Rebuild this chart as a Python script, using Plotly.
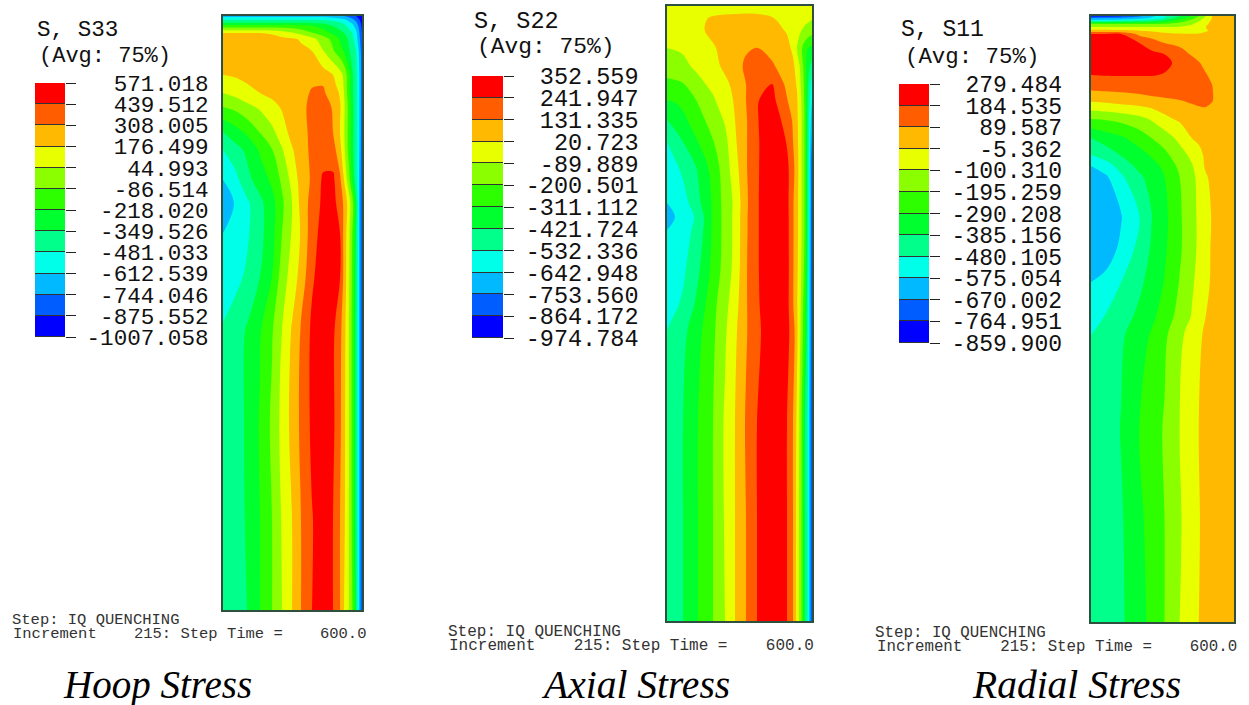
import plotly.graph_objects as go

W, H = 1249, 705

# Stress fields expressed in legend-band units: band k spans z in [k, k+1]
# (0 = darkest blue ... 11 = red). Stations are pixels across/down each section.
hoop_r = [0, 12, 24, 37, 49, 59, 69, 78, 89, 100, 110, 117, 121, 126, 130, 133, 136, 139]
hoop_y = [0, 3, 6, 10, 17, 23, 35, 59, 69, 77, 91, 116, 134, 164, 187, 217, 260, 314, 409, 504, 594]
hoop_z = [
    [2.6, 2.6, 2.6, 2.6, 2.6, 2.6, 2.6, 2.6, 2.6, 2.6, 2.4, 2.2, 2.0, 1.6, 1.3, 1.0, 0.7, 0.3],
    [3.8, 3.8, 3.8, 3.8, 3.8, 3.8, 3.8, 3.8, 3.8, 3.7, 3.5, 3.2, 3.0, 2.5, 2.0, 1.5, 1.0, 0.5],
    [4.7, 4.7, 4.7, 4.7, 4.7, 4.7, 4.7, 4.7, 4.7, 4.6, 4.3, 4.0, 3.7, 3.1, 2.7, 2.1, 1.4, 0.6],
    [6.5, 6.5, 6.5, 6.5, 6.5, 6.5, 6.5, 6.3, 6.0, 5.6, 5.0, 4.6, 4.3, 3.7, 3.2, 2.6, 1.8, 0.8],
    [9.0, 9.0, 9.0, 9.0, 8.9, 8.5, 8.1, 7.7, 7.05, 6.5, 5.8, 5.3, 5.0, 4.4, 3.9, 3.3, 2.2, 1.0],
    [9.3, 9.3, 9.3, 9.3, 9.3, 9.25, 9.15, 8.9, 8.3, 7.5, 6.7, 5.9, 5.5, 4.8, 4.1, 3.5, 2.4, 1.1],
    [9.5, 9.5, 9.5, 9.5, 9.45, 9.4, 9.3, 9.2, 9.0, 8.05, 7.1, 6.4, 5.9, 5.1, 4.5, 4.0, 2.9, 1.4],
    [9.0, 9.1, 9.3, 9.6, 9.8, 9.85, 9.9, 9.9, 9.75, 9.45, 9.0, 8.4, 7.8, 6.3, 5.0, 4.3, 3.2, 1.5],
    [8.5, 8.7, 8.95, 9.3, 9.6, 9.75, 9.85, 9.92, 9.97, 9.97, 9.3, 8.6, 7.9, 6.3, 5.0, 4.3, 3.2, 1.5],
    [8.0, 8.3, 8.6, 9.0, 9.25, 9.55, 9.75, 9.85, 10.05, 10.15, 9.5, 8.9, 8.0, 6.4, 5.0, 4.3, 3.2, 1.5],
    [7.0, 7.25, 7.75, 8.15, 8.7, 9.1, 9.55, 9.8, 10.2, 10.5, 9.9, 9.1, 8.2, 6.6, 5.1, 4.3, 3.2, 1.5],
    [5.0, 5.6, 6.2, 7.05, 7.75, 8.55, 9.35, 9.7, 10.2, 10.7, 10.0, 9.0, 8.1, 6.6, 5.1, 4.3, 3.2, 1.4],
    [4.0, 4.6, 5.2, 6.15, 6.95, 7.9, 8.9, 9.6, 10.2, 10.55, 10.45, 9.3, 8.3, 6.6, 5.1, 4.3, 3.2, 1.3],
    [3.0, 3.65, 4.7, 5.45, 6.2, 7.2, 8.3, 9.4, 10.15, 11.15, 11.2, 10.2, 9.0, 7.3, 5.5, 4.4, 3.0, 1.2],
    [2.5, 3.05, 3.8, 4.75, 5.65, 6.8, 8.0, 9.3, 10.4, 11.2, 11.3, 10.6, 9.8, 8.5, 7.0, 5.2, 3.0, 1.0],
    [3.0, 3.4, 3.85, 4.7, 5.65, 7.0, 8.1, 9.1, 10.55, 11.4, 11.4, 11.0, 9.7, 8.2, 6.7, 5.0, 3.0, 1.0],
    [3.4, 3.7, 4.15, 5.0, 6.0, 7.45, 8.45, 9.35, 10.85, 11.5, 11.4, 11.05, 9.7, 8.1, 6.6, 4.9, 3.0, 1.0],
    [4.1, 4.5, 5.1, 5.9, 6.9, 8.0, 9.1, 10.1, 11.2, 11.7, 11.2, 10.3, 9.4, 8.0, 6.5, 4.8, 3.0, 1.0],
    [4.2, 4.55, 5.15, 6.1, 7.2, 8.3, 9.3, 10.2, 11.2, 11.7, 11.2, 10.2, 9.3, 8.0, 6.5, 4.8, 3.0, 1.0],
    [4.25, 4.55, 5.1, 6.0, 7.0, 8.1, 9.0, 10.0, 10.95, 11.5, 11.0, 10.0, 9.2, 8.0, 6.5, 4.8, 3.0, 1.0],
    [4.4, 4.7, 5.0, 6.0, 7.0, 8.0, 9.0, 10.0, 11.0, 11.5, 11.0, 10.0, 9.0, 8.0, 6.8, 5.0, 3.0, 1.0],
]

axial_r = [0, 8, 16, 31, 46, 58, 68, 79, 90, 105, 120, 126, 130, 134, 138, 141, 145]
axial_y = [0, 12, 24, 42, 60, 78, 94, 114, 136, 161, 197, 211, 224, 261, 300, 324, 419, 514, 615]
axial_z = [
    [8.5, 8.5, 8.5, 8.5, 8.5, 8.5, 8.5, 8.5, 8.5, 8.5, 8.5, 8.5, 8.5, 8.5, 8.5, 8.4, 8.3],
    [8.45, 8.5, 8.6, 8.8, 9.1, 9.2, 9.25, 9.3, 9.25, 9.05, 8.7, 8.6, 8.5, 8.4, 8.3, 8.2, 8.1],
    [8.3, 8.35, 8.5, 8.8, 9.25, 9.45, 9.5, 9.55, 9.55, 9.4, 8.9, 8.5, 8.3, 8.05, 7.8, 7.7, 7.5],
    [8.0, 8.05, 8.15, 8.5, 8.9, 9.3, 9.6, 9.9, 10.02, 9.75, 9.3, 8.8, 8.0, 7.2, 6.5, 6.0, 5.8],
    [7.6, 7.65, 7.75, 8.25, 8.7, 9.2, 9.65, 10.15, 10.3, 10.1, 9.6, 9.2, 8.6, 7.7, 6.4, 5.4, 4.6],
    [6.7, 6.8, 6.95, 7.7, 8.3, 8.8, 9.25, 10.0, 10.85, 11.0, 9.75, 9.35, 8.9, 7.9, 6.6, 5.0, 3.6],
    [6.0, 6.1, 6.3, 7.1, 7.85, 8.6, 9.1, 10.0, 10.95, 11.3, 10.05, 9.5, 9.1, 8.1, 6.7, 4.8, 3.0],
    [5.0, 5.4, 5.75, 6.6, 7.45, 8.1, 9.0, 9.9, 10.95, 11.45, 10.7, 9.85, 9.2, 8.2, 6.8, 4.7, 2.3],
    [4.0, 4.5, 5.0, 6.0, 6.95, 7.7, 8.85, 9.9, 10.9, 11.55, 10.95, 10.0, 9.3, 8.2, 6.8, 4.6, 1.8],
    [3.4, 3.8, 4.25, 5.1, 6.45, 7.5, 8.6, 9.9, 10.9, 11.6, 11.25, 10.3, 9.4, 8.2, 6.8, 4.5, 1.3],
    [3.0, 3.3, 3.55, 4.75, 6.15, 7.4, 8.2, 9.8, 10.9, 11.7, 11.3, 10.1, 9.3, 8.2, 6.8, 4.5, 1.2],
    [2.7, 3.0, 3.45, 4.2, 6.2, 7.35, 8.25, 9.85, 10.9, 11.7, 11.35, 10.1, 9.3, 8.2, 6.8, 4.5, 1.1],
    [3.0, 3.25, 3.55, 4.35, 6.2, 7.35, 8.25, 9.85, 10.9, 11.7, 11.35, 10.1, 9.3, 8.2, 6.8, 4.5, 1.1],
    [3.45, 3.6, 3.8, 4.8, 6.3, 7.4, 8.3, 9.9, 10.9, 11.7, 11.4, 10.1, 9.2, 8.1, 6.6, 4.4, 1.0],
    [3.75, 3.9, 4.15, 5.3, 6.7, 7.7, 8.6, 9.9, 10.85, 11.7, 11.35, 10.1, 9.1, 7.9, 6.2, 4.2, 1.0],
    [4.0, 4.25, 4.7, 5.7, 6.8, 7.85, 8.8, 9.9, 10.75, 11.7, 11.3, 10.5, 9.2, 7.8, 6.0, 4.2, 1.0],
    [4.3, 4.65, 5.0, 6.0, 7.0, 8.15, 9.0, 10.1, 11.0, 11.65, 11.0, 10.0, 8.8, 7.4, 5.0, 3.8, 1.0],
    [4.35, 4.7, 5.0, 6.0, 7.0, 8.1, 9.0, 10.0, 11.0, 11.6, 11.0, 10.0, 8.7, 7.3, 5.0, 3.8, 1.0],
    [4.4, 4.7, 5.0, 6.0, 7.0, 8.0, 9.0, 10.0, 11.0, 11.6, 11.0, 10.0, 8.7, 7.3, 5.0, 3.8, 1.0],
]

radial_r = [0, 15, 30, 48, 60, 73, 88, 100, 107, 114, 120, 126, 142]
radial_y = [0, 2, 4, 8, 11, 15, 18, 27, 39, 47, 59, 71, 84, 91, 103, 122, 139, 150, 161, 200, 233, 266, 300, 319, 414, 504, 606]
radial_z = [
    [0.6, 0.7, 0.9, 1.8, 2.6, 3.8, 5.0, 6.0, 7.0, 8.0, 9.0, 9.4, 9.6],
    [2.0, 2.1, 2.2, 2.6, 3.2, 4.0, 5.5, 6.6, 7.4, 8.2, 9.0, 9.4, 9.6],
    [3.0, 3.1, 3.3, 3.7, 4.2, 5.0, 6.2, 7.1, 7.8, 8.5, 9.1, 9.4, 9.6],
    [7.0, 7.0, 7.0, 7.0, 7.0, 7.1, 7.5, 7.9, 8.3, 8.8, 9.3, 9.5, 9.6],
    [8.0, 8.0, 8.0, 8.0, 8.0, 8.0, 8.05, 8.3, 8.6, 9.0, 9.3, 9.5, 9.6],
    [9.5, 9.45, 9.3, 9.1, 8.9, 8.6, 8.4, 8.4, 8.6, 8.9, 9.2, 9.5, 9.6],
    [11.05, 11.05, 11.0, 9.75, 9.5, 9.3, 9.1, 9.05, 9.1, 9.3, 9.45, 9.6, 9.6],
    [11.5, 11.5, 11.4, 11.0, 10.5, 10.0, 9.75, 9.65, 9.6, 9.6, 9.6, 9.6, 9.6],
    [11.6, 11.6, 11.6, 11.4, 11.3, 11.05, 10.5, 9.95, 9.8, 9.7, 9.6, 9.6, 9.6],
    [11.5, 11.5, 11.5, 11.5, 11.4, 11.2, 10.8, 10.3, 10.05, 9.8, 9.7, 9.6, 9.6],
    [11.0, 11.05, 11.05, 11.05, 11.05, 10.95, 10.6, 10.4, 10.25, 10.05, 9.85, 9.6, 9.6],
    [10.3, 10.35, 10.4, 10.45, 10.45, 10.45, 10.4, 10.4, 10.35, 10.25, 10.05, 9.6, 9.55],
    [9.2, 9.3, 9.4, 9.6, 9.8, 9.9, 10.0, 10.3, 10.4, 10.4, 10.1, 9.6, 9.5],
    [8.4, 8.55, 8.75, 8.9, 9.1, 9.3, 9.5, 9.75, 9.95, 10.0, 9.8, 9.55, 9.5],
    [7.0, 7.1, 7.3, 7.7, 8.1, 8.8, 9.15, 9.35, 9.4, 9.5, 9.45, 9.5, 9.5],
    [5.0, 5.5, 5.85, 6.45, 7.0, 7.45, 8.3, 9.0, 9.2, 9.35, 9.4, 9.45, 9.5],
    [4.0, 4.45, 5.05, 5.65, 6.1, 6.75, 7.55, 8.25, 8.7, 9.2, 9.3, 9.4, 9.5],
    [3.0, 3.6, 4.35, 5.3, 5.65, 6.2, 7.25, 7.9, 8.5, 9.15, 9.3, 9.4, 9.5],
    [2.5, 2.85, 3.85, 4.8, 5.4, 6.0, 7.0, 7.75, 8.25, 8.9, 9.2, 9.4, 9.5],
    [2.3, 2.6, 2.95, 4.0, 4.95, 5.75, 6.85, 7.7, 8.15, 8.65, 9.05, 9.4, 9.5],
    [2.4, 2.65, 3.15, 4.35, 5.1, 5.85, 6.85, 7.7, 8.15, 8.7, 9.1, 9.4, 9.5],
    [3.0, 3.2, 4.0, 4.8, 5.35, 6.05, 7.05, 7.85, 8.3, 8.8, 9.1, 9.4, 9.5],
    [3.7, 4.05, 4.6, 5.2, 5.75, 6.45, 7.35, 8.05, 8.5, 9.0, 9.2, 9.4, 9.5],
    [4.0, 4.4, 4.85, 5.55, 6.1, 6.8, 7.75, 8.45, 8.8, 9.2, 9.3, 9.4, 9.5],
    [4.1, 4.45, 5.05, 6.0, 6.5, 7.1, 8.0, 8.7, 9.0, 9.25, 9.3, 9.4, 9.5],
    [4.25, 4.55, 4.9, 5.8, 6.35, 7.0, 7.9, 8.55, 8.95, 9.25, 9.3, 9.4, 9.5],
    [4.3, 4.6, 4.85, 5.65, 6.25, 7.0, 8.0, 8.7, 9.0, 9.25, 9.3, 9.4, 9.5],
]

band_colors = ["#0000ff", "#005dff", "#00b9ff", "#00ffe8", "#00ff8b", "#00ff2e",
               "#2eff00", "#8bff00", "#e8ff00", "#ffb900", "#ff5d00", "#ff0000"]

hoop_labels = ["571.018", "439.512", "308.005", "176.499", "44.993", "-86.514", "-218.020",
               "-349.526", "-481.033", "-612.539", "-744.046", "-875.552", "-1007.058"]
axial_labels = ["352.559", "241.947", "131.335", "20.723", "-89.889", "-200.501", "-311.112",
                "-421.724", "-532.336", "-642.948", "-753.560", "-864.172", "-974.784"]
radial_labels = ["279.484", "184.535", "89.587", "-5.362", "-100.310", "-195.259", "-290.208",
                 "-385.156", "-480.105", "-575.054", "-670.002", "-764.951", "-859.900"]

panels = [
    dict(title="Hoop Stress", head="S, S33", r=hoop_r, y=hoop_y, z=hoop_z, labels=hoop_labels,
         box=(223, 362, 16, 610), bar=(35, 65, 83, 337), font=22.6, pad=6, width=9,
         h1=(36, 30), h2=(38, 56), s1=(11, 620), s2=(12, 634), foot=15.5, tx=157, tsize=39),
    dict(title="Axial Stress", head="S, S22", r=axial_r, y=axial_y, z=axial_z, labels=axial_labels,
         box=(667, 812, 6, 621), bar=(472, 503, 76, 338), font=23.5, pad=7, width=8,
         h1=(473, 21), h2=(476, 47), s1=(447, 632), s2=(448, 646), foot=16, tx=635, tsize=39.5),
    dict(title="Radial Stress", head="S, S11", r=radial_r, y=radial_y, z=radial_z, labels=radial_labels,
         box=(1091, 1234, 16, 622), bar=(899, 929, 84, 343), font=23, pad=7, width=8,
         h1=(900, 30), h2=(904, 57), s1=(874, 633), s2=(876, 647), foot=15.8, tx=1076, tsize=39.5),
]

MONO = "Liberation Mono"
INK = "#111111"
FOOT = "#333333"
NB = "\u00a0"

flat_scale = [[i / 11, c] for i, c in enumerate(band_colors)]
step_scale = []
for i, c in enumerate(band_colors):
    step_scale += [[i / 12, c], [(i + 1) / 12, c]]

fig = go.Figure()
layout = {}
notes = []


def note(x, y, text, size, color=INK, family=MONO, xanchor="left"):
    notes.append(dict(x=x / W, y=1 - y / H, xref="paper", yref="paper", text=text, showarrow=False,
                      xanchor=xanchor, yanchor="middle", align="left", borderpad=0,
                      font=dict(family=family, size=size, color=color)))


for i, p in enumerate(panels):
    a = 2 * i + 1
    b = 2 * i + 2
    x0, x1, y0, y1 = p["box"]
    fig.add_trace(go.Contour(
        x=p["r"], y=p["y"], z=p["z"], xaxis=f"x{a}", yaxis=f"y{a}",
        colorscale=flat_scale, showscale=False, hoverinfo="skip",
        autocontour=False, contours=dict(start=1, end=11, size=1, coloring="fill", showlines=False),
        line=dict(width=0, smoothing=1.0),
    ))
    frame = dict(showticklabels=False, ticks="", showgrid=False, zeroline=False, automargin=False,
                 showline=True, mirror=True, linecolor="#2f4f3f", linewidth=1.5)
    layout[f"xaxis{a}"] = dict(domain=[x0 / W, x1 / W], range=[p["r"][0], p["r"][-1]], anchor=f"y{a}", **frame)
    layout[f"yaxis{a}"] = dict(domain=[1 - y1 / H, 1 - y0 / H], range=[p["y"][-1], p["y"][0]], anchor=f"x{a}", **frame)

    bx0, bx1, by0, by1 = p["bar"]
    fig.add_trace(go.Heatmap(
        x=[0.5], y=[k + 0.5 for k in range(12)], z=[[k + 0.5] for k in range(12)],
        xaxis=f"x{b}", yaxis=f"y{b}", zmin=0, zmax=12, colorscale=step_scale,
        showscale=False, hoverinfo="skip", ygap=1,
    ))
    layout[f"xaxis{b}"] = dict(domain=[bx0 / W, bx1 / W], range=[0, 1], anchor=f"y{b}", automargin=False,
                               showticklabels=False, ticks="", showgrid=False, zeroline=False)
    layout[f"yaxis{b}"] = dict(domain=[1 - by1 / H, 1 - by0 / H], range=[0, 12], anchor=f"x{b}", side="right",
                               automargin=False, tickmode="array", tickvals=list(range(13)),
                               ticktext=[t.rjust(p["width"], NB) for t in reversed(p["labels"])],
                               ticks="outside", ticklen=10, tickwidth=1, tickcolor="#222",
                               ticklabelstandoff=p["pad"], showgrid=False, zeroline=False,
                               tickfont=dict(family=MONO, size=p["font"], color=INK))

    note(*p["h1"], p["head"], p["font"])
    note(*p["h2"], "(Avg:" + NB + "75%)", p["font"] - 0.6)
    note(*p["s1"], "Step:" + NB + "IQ" + NB + "QUENCHING", p["foot"], FOOT)
    note(*p["s2"], "Increment" + NB * 4 + "215:" + NB + "Step" + NB + "Time" + NB + "=" + NB * 4 + "600.0", p["foot"], FOOT)
    note(p["tx"], 685, "<i>" + p["title"] + "</i>", p["tsize"], "#000000", "Liberation Serif", "center")

fig.update_layout(width=W, height=H, margin=dict(l=0, r=0, t=0, b=0, pad=0, autoexpand=False), autosize=False,
                  paper_bgcolor="white", plot_bgcolor="#333333", showlegend=False,
                  annotations=notes, **layout)

fig.write_html("out.html", config={"displayModeBar": False},
               post_script="document.body.style.margin='0';document.body.style.overflow='hidden';")
